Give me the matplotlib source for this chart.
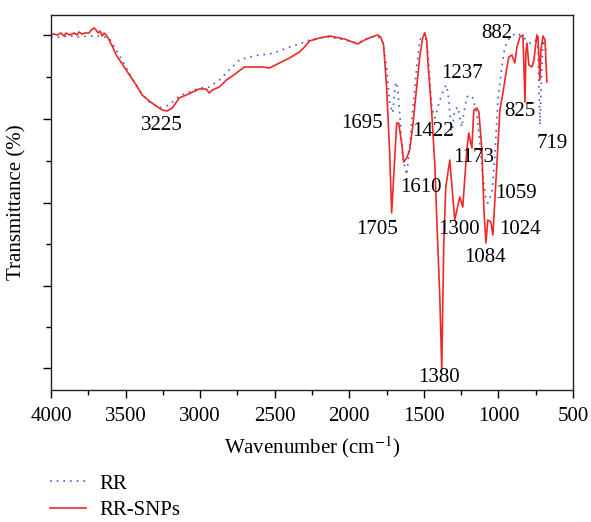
import matplotlib
matplotlib.use("Agg")
import matplotlib.pyplot as plt

plt.rcParams.update({
    "font.family": ["Liberation Serif", "DejaVu Serif"],
    "font.size": 15,
    "mathtext.fontset": "stix",
})

# ── FT-IR spectra (wavenumber cm^-1, transmittance a.u.) ──
rr_snps_wn = [
    4000, 3980, 3960, 3933, 3913, 3899, 3879, 3859, 3845, 3825, 3812, 3792,
    3772, 3745, 3731, 3711, 3698, 3684, 3671, 3657, 3644, 3631, 3617, 3610,
    3597, 3583, 3563, 3496, 3429, 3389, 3342, 3295, 3254, 3221, 3187, 3140,
    3093, 3006, 2959, 2939, 2918, 2871, 2824, 2784, 2703, 2636, 2582, 2535,
    2468, 2401, 2334, 2300, 2267, 2200, 2132, 2032, 1944, 1897, 1850, 1810,
    1790, 1770, 1750, 1729, 1716, 1696, 1682, 1669, 1649, 1635, 1615, 1595,
    1575, 1548, 1528, 1508, 1494, 1481, 1474, 1447, 1427, 1414, 1393, 1380,
    1367, 1353, 1326, 1293, 1259, 1239, 1212, 1199, 1178, 1165, 1145, 1131,
    1111, 1098, 1084, 1071, 1051, 1037, 1024, 1004, 990, 970, 943, 930,
    910, 890, 876, 856, 836, 829, 822, 816, 809, 796, 775, 762,
    742, 735, 722, 715, 701, 688, 675,
]
rr_snps_t = [
    93.5, 93.5, 93.25, 93.75, 93.0, 93.75, 93.25, 93.5, 93.75, 93.25, 94.0, 93.5,
    93.75, 93.75, 94.5, 95.0, 94.5, 93.75, 94.25, 93.0, 93.75, 93.25, 92.5, 92.0,
    91.0, 90.0, 88.25, 84.5, 80.75, 78.25, 76.75, 75.5, 74.5, 74.25, 75.0, 77.5,
    78.25, 79.75, 79.75, 78.75, 79.5, 80.25, 82.0, 83.0, 85.25, 85.25, 85.25, 85.0,
    86.25, 87.5, 89.0, 90.25, 91.75, 92.5, 93.0, 92.25, 91.0, 92.0, 92.75, 93.25,
    92.75, 90.75, 80.25, 63.75, 48.75, 62.0, 71.25, 71.25, 66.25, 61.5, 62.5, 64.5,
    70.25, 80.25, 87.75, 92.5, 93.75, 92.0, 87.0, 73.75, 61.25, 47.75, 27.75, 9.5,
    40.25, 55.25, 62.0, 47.0, 52.75, 50.25, 64.5, 68.75, 65.0, 74.5, 75.0, 74.0,
    64.5, 50.25, 41.25, 47.0, 46.5, 43.25, 52.0, 65.25, 74.5, 78.75, 85.25, 87.75,
    88.25, 86.25, 90.25, 92.75, 93.25, 85.25, 76.5, 88.75, 91.25, 85.75, 85.25, 87.0,
    93.25, 92.75, 82.0, 89.5, 93.0, 92.0, 81.5,
]

rr_wn = [
    4000, 3946, 3879, 3812, 3745, 3678, 3610, 3543, 3476, 3409, 3342, 3274,
    3207, 3140, 3073, 3006, 2939, 2871, 2804, 2737, 2670, 2603, 2535, 2468,
    2401, 2334, 2267, 2200, 2132, 2032, 1944, 1864, 1810, 1776, 1750, 1729,
    1709, 1689, 1676, 1655, 1642, 1615, 1595, 1575, 1548, 1528, 1494, 1474,
    1447, 1427, 1393, 1360, 1347, 1333, 1313, 1293, 1272, 1246, 1232, 1212,
    1192, 1172, 1145, 1125, 1104, 1084, 1071, 1044, 1024, 1004, 977, 957,
    923, 876, 836, 789, 755, 735, 722, 708, 701, 675,
]
rr_t = [
    92.75, 92.75, 93.0, 92.75, 93.0, 93.0, 92.5, 88.25, 83.75, 79.5, 76.5, 75.0,
    75.75, 78.0, 79.0, 80.0, 80.25, 82.0, 84.5, 87.0, 87.75, 88.25, 88.5, 89.25,
    90.25, 91.0, 92.0, 92.5, 92.75, 92.0, 91.25, 92.75, 93.0, 91.5, 85.25, 76.25,
    73.75, 81.5, 80.25, 70.25, 62.75, 58.25, 65.25, 74.5, 85.25, 92.0, 93.75, 89.5,
    75.25, 72.5, 77.0, 80.25, 80.75, 77.0, 68.25, 74.5, 75.25, 70.25, 73.75, 77.75,
    78.25, 77.5, 73.75, 66.25, 57.75, 52.0, 51.25, 53.75, 62.75, 77.0, 85.25, 90.25,
    92.75, 93.75, 92.75, 91.25, 92.0, 90.25, 70.75, 85.25, 92.0, 88.75,
]

# band labels: text, x, y
peak_labels = ["3225", "1695", "1422", "1237", "1173", "1610", "1705", "1300",
               "1059", "1024", "1084", "882", "825", "719", "1380"]
peak_x = [3254, 1917, 1440, 1246, 1165, 1521, 1817, 1266,
          883, 856, 1091, 1010, 856, 641, 1400]
peak_y = [70.75, 71.0, 69.0, 83.75, 62.75, 55.0, 44.5, 44.5,
          53.75, 44.5, 37.5, 93.75, 74.0, 66.25, 7.75]

fig = plt.figure(figsize=(5.91, 5.22), dpi=100)
ax = fig.add_axes([51 / 591, 1 - 390 / 522, 522 / 591, 375 / 522])

ax.plot(rr_wn, rr_t, color="#3c5ed0", lw=1.2, linestyle=(0, (1, 3)), label="RR")
ax.plot(rr_snps_wn, rr_snps_t, color="#f02828", lw=1.2, label="RR-SNPs")

for txt, x, y in zip(peak_labels, peak_x, peak_y):
    ax.text(x, y, txt, ha="center", va="center", fontsize=15)

ax.set_xlim(4000, 500)
ax.set_ylim(4.5, 98.25)
ax.set_xticks([4000, 3500, 3000, 2500, 2000, 1500, 1000, 500])
ax.set_xticks([3750, 3250, 2750, 2250, 1750, 1250, 750], minor=True)
ax.set_yticks([10.0, 30.5, 51.25, 72.25, 93.25])
ax.set_yticks([20.25, 41.0, 61.75, 82.75], minor=True)
ax.set_yticklabels([])
ax.tick_params(which="major", length=6, width=1, direction="out", labelsize=15, pad=6)
ax.tick_params(which="minor", length=3.5, width=1, direction="out")
for sp in ax.spines.values():
    sp.set_linewidth(1.0)
    sp.set_color("#222222")

ax.set_xlabel("Wavenumber (cm$^{-1}$)", fontsize=15, labelpad=6)
ax.set_ylabel("Transmittance (%)", fontsize=15, labelpad=6)

fig.legend(loc="upper left", bbox_to_anchor=(50 / 591, 1 - 474 / 522),
           frameon=False, fontsize=15, handlelength=1.75, handletextpad=0.6,
           labelspacing=0.35, borderpad=0, borderaxespad=0)

fig.savefig("out.png", dpi=100)
